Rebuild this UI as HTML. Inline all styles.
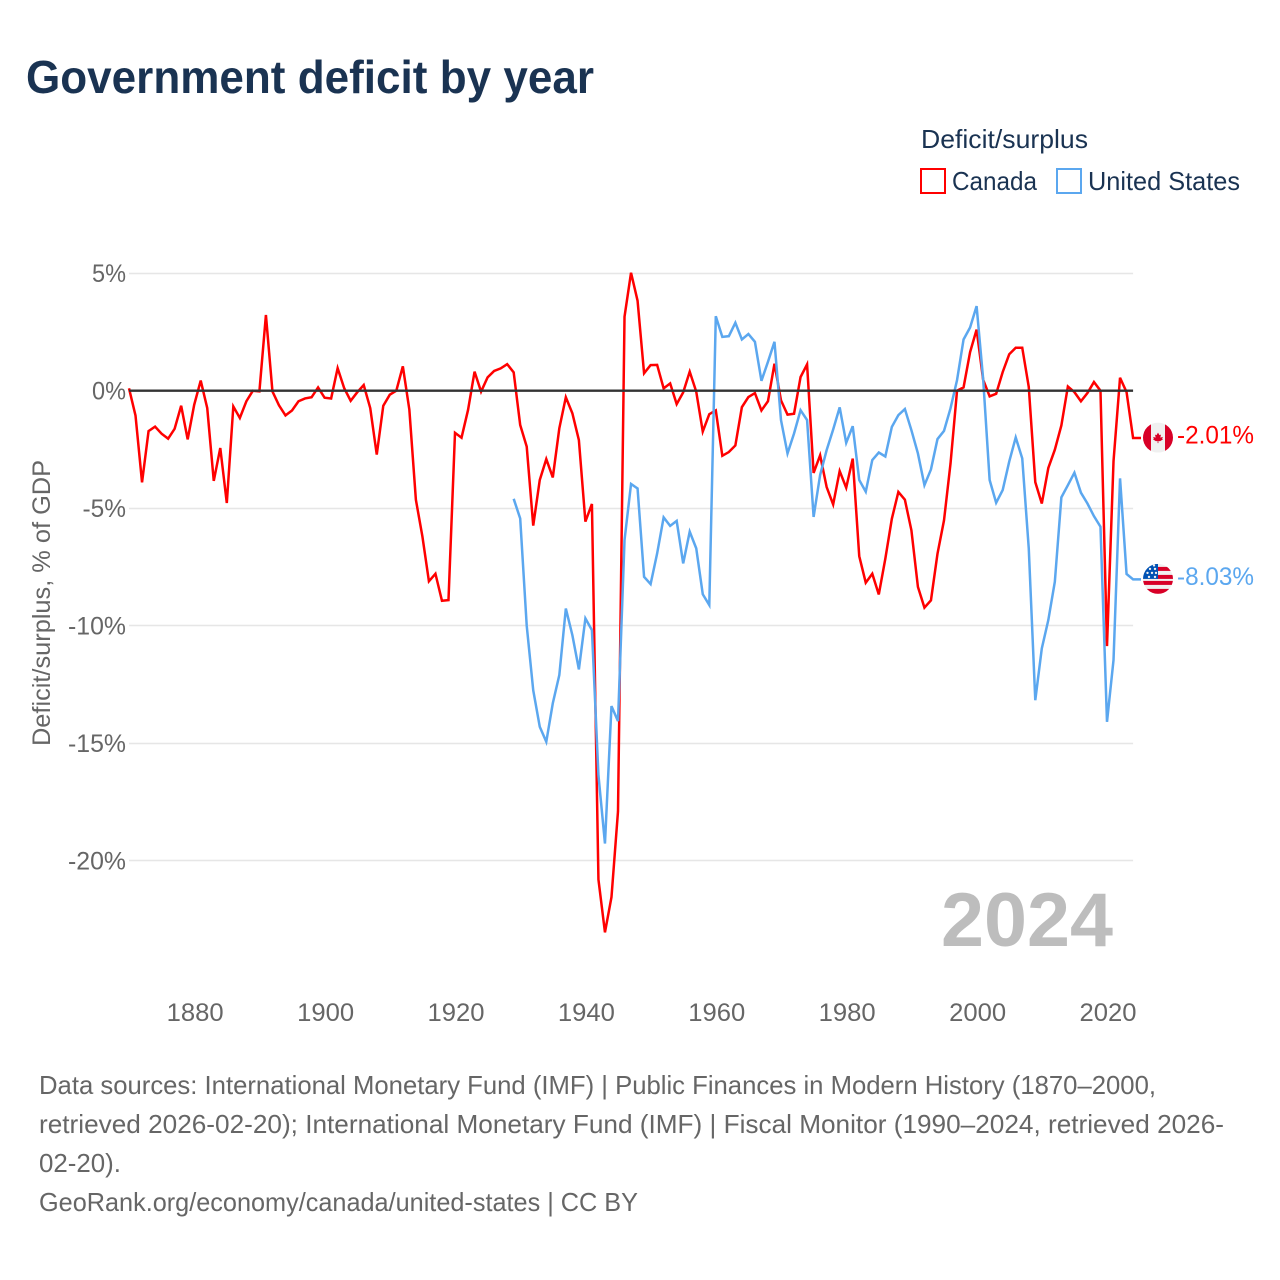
<!DOCTYPE html>
<html lang="en">
<head>
<meta charset="utf-8">
<title>Government deficit by year</title>
<style>
html,body{margin:0;padding:0;background:#fff;width:1280px;height:1280px;overflow:hidden}
svg{display:block}
text{font-family:"Liberation Sans",sans-serif}
</style>
</head>
<body>
<svg id="chart" xmlns="http://www.w3.org/2000/svg" width="1280" height="1280" viewBox="0 0 1280 1280">
  <rect width="1280" height="1280" fill="#ffffff"/>
  <text x="26" y="93" font-size="46" font-weight="700" fill="#1a3352" textLength="568" lengthAdjust="spacingAndGlyphs">Government deficit by year</text>

  <g>
    <text x="921" y="148" font-size="26" fill="#1a3352" textLength="167" lengthAdjust="spacingAndGlyphs">Deficit/surplus</text>
    <rect x="921" y="169" width="24" height="24" fill="none" stroke="#ff0000" stroke-width="2"/>
    <text x="952" y="190" font-size="26" fill="#1a3352" textLength="85" lengthAdjust="spacingAndGlyphs">Canada</text>
    <rect x="1057" y="169" width="24" height="24" fill="none" stroke="#5ba7ef" stroke-width="2"/>
    <text x="1088" y="190" font-size="26" fill="#1a3352" textLength="152" lengthAdjust="spacingAndGlyphs">United States</text>
  </g>

  <g id="grid"></g>
  <g id="yLabels"></g>
  <g id="xLabels"></g>
  <text transform="translate(50,603) rotate(-90)" text-anchor="middle" font-size="25" fill="#666666" textLength="286" lengthAdjust="spacingAndGlyphs">Deficit/surplus, % of GDP</text>

  <text x="941" y="946" font-size="76" font-weight="700" fill="#bdbdbd" textLength="172" lengthAdjust="spacingAndGlyphs">2024</text>

  <g id="series"></g>
  <line id="zeroLine" stroke="#333333" stroke-width="2.4"/>

  <defs>
    <clipPath id="flagClip"><circle cx="0" cy="0" r="15"/></clipPath>
  </defs>

  <g id="flagCanada">
    <g clip-path="url(#flagClip)">
      <rect x="-15" y="-15" width="30" height="30" fill="#f0f0f0"/>
      <rect x="-15" y="-15" width="8" height="30" fill="#d80027"/>
      <rect x="7" y="-15" width="8" height="30" fill="#d80027"/>
      <polygon fill="#d80027" points="0,-5 1.5,-2.5 3,-3 2.3,0 4.8,-0.8 4.2,1.2 5,1.8 2,3.6 1,3.4 0.4,3.5 0.4,5.5 -0.4,5.5 -0.4,3.5 -1,3.4 -2,3.6 -5,1.8 -4.2,1.2 -4.8,-0.8 -2.3,0 -3,-3 -1.5,-2.5"/>
    </g>
  </g>

  <g id="flagUS">
    <g clip-path="url(#flagClip)">
      <rect x="-15" y="-15" width="30" height="30" fill="#f0f0f0"/>
      <rect x="-1" y="-12" width="16" height="4" fill="#d80027"/>
      <rect x="-1" y="-4" width="16" height="4" fill="#d80027"/>
      <rect x="-15" y="2" width="30" height="4" fill="#d80027"/>
      <rect x="-15" y="10" width="30" height="5" fill="#d80027"/>
      <rect x="-15" y="-15" width="15" height="15" fill="#0052b4"/>
      <g fill="#f0f0f0">
        <circle cx="-9" cy="-2" r="1.2"/><circle cx="-3" cy="-2" r="1.2"/>
        <circle cx="-6" cy="-6" r="1.2"/><circle cx="-10.5" cy="-6" r="1.2"/><circle cx="-2" cy="-6" r="1.2"/>
        <circle cx="-8" cy="-10" r="1.2"/><circle cx="-3" cy="-10" r="1.2"/>
        <circle cx="-4" cy="-13.5" r="1.2"/>
      </g>
    </g>
  </g>
  <g id="endLabels"></g>

  <g font-size="26" fill="#666666">
    <text x="39" y="1094" textLength="1117" lengthAdjust="spacingAndGlyphs">Data sources: International Monetary Fund (IMF) | Public Finances in Modern History (1870–2000,</text>
    <text x="39" y="1133" textLength="1185" lengthAdjust="spacingAndGlyphs">retrieved 2026-02-20); International Monetary Fund (IMF) | Fiscal Monitor (1990–2024, retrieved 2026-</text>
    <text x="39" y="1172" textLength="82" lengthAdjust="spacingAndGlyphs">02-20).</text>
    <text x="39" y="1211" textLength="599" lengthAdjust="spacingAndGlyphs">GeoRank.org/economy/canada/united-states | CC BY</text>
  </g>
</svg>

<script>
const canadaStartYear = 1870;
const usStartYear = 1929;
const canadaValues = [
  0.1,-1.06,-3.9,-1.72,-1.53,-1.83,-2.04,-1.62,-0.64,-2.07,
  -0.6,0.43,-0.74,-3.84,-2.44,-4.78,-0.67,-1.16,-0.45,0,
  -0.03,3.22,-0.03,-0.62,-1.05,-0.84,-0.45,-0.33,-0.28,0.14,
  -0.3,-0.33,0.96,0.11,-0.43,-0.07,0.24,-0.74,-2.72,-0.64,
  -0.17,0,1.04,-0.81,-4.64,-6.2,-8.11,-7.79,-8.94,-8.91,
  -1.79,-2,-0.82,0.81,-0.04,0.57,0.84,0.95,1.13,0.78,
  -1.46,-2.38,-5.74,-3.8,-2.91,-3.69,-1.6,-0.28,-0.96,-2.1,
  -5.57,-4.82,-20.8,-23.05,-21.55,-17.9,3.15,5.02,3.83,0.74,
  1.09,1.1,0.1,0.31,-0.57,-0.07,0.81,-0.04,-1.74,-1.0,
  -0.84,-2.77,-2.61,-2.33,-0.7,-0.27,-0.1,-0.84,-0.45,1.15,
  -0.41,-1.02,-0.98,0.58,1.12,-3.5,-2.75,-4.1,-4.84,-3.42,
  -4.13,-2.89,-7.04,-8.17,-7.79,-8.67,-7.15,-5.45,-4.31,-4.64,
  -5.94,-8.35,-9.23,-8.92,-6.94,-5.52,-3.1,0,0.14,1.64,
  2.6,0.47,-0.24,-0.13,0.79,1.55,1.83,1.83,0.16,-3.89,
  -4.8,-3.29,-2.51,-1.48,0.18,-0.06,-0.45,-0.1,0.37,0,
  -10.87,-3,0.55,-0.06,-2.01
];
const usValues = [
  -4.6,
  -5.44,-10,-12.75,-14.3,-14.94,-13.3,-12.1,-9.27,-10.4,-11.86,
  -9.69,-10.19,-16.36,-19.27,-13.42,-14.06,-6.36,-3.97,-4.16,-7.92,
  -8.23,-6.93,-5.39,-5.75,-5.54,-7.35,-6,-6.71,-8.66,-9.12,
  3.17,2.29,2.32,2.89,2.18,2.41,2.08,0.42,1.23,2.08,
  -1.25,-2.67,-1.82,-0.83,-1.25,-5.37,-3.59,-2.53,-1.65,-0.71,
  -2.22,-1.51,-3.8,-4.3,-2.95,-2.63,-2.8,-1.54,-1.04,-0.78,
  -1.68,-2.67,-4.02,-3.35,-2.06,-1.71,-0.75,0.45,2.18,2.69,
  3.6,0.52,-3.8,-4.77,-4.23,-3.02,-1.99,-2.88,-6.71,-13.17,
  -10.97,-9.76,-8.13,-4.54,-4.02,-3.49,-4.34,-4.8,-5.34,-5.79,
  -14.09,-11.46,-3.73,-7.8,-8.03
];
const yTicks = [5,0,-5,-10,-15,-20];
const yTickLabels = ["5%","0%","-5%","-10%","-15%","-20%"];
const xTicks = [1880,1900,1920,1940,1960,1980,2000,2020];
const xTickLabels = ["1880","1900","1920","1940","1960","1980","2000","2020"];

const SVG_NS = "http://www.w3.org/2000/svg";
const xScale = function (year) { return 129 + (year - 1870) * 6.52; };
const yScale = function (v) { return 390.7 - v * 23.5; };
const leaderEndX = 1141;
const flagX = 1158;

const gridGroup = document.getElementById("grid");
const yGroup = document.getElementById("yLabels");
const xGroup = document.getElementById("xLabels");
const seriesGroup = document.getElementById("series");
const endGroup = document.getElementById("endLabels");

yTicks.forEach(function (t, i) {
  const y = yScale(t);
  if (t !== 0) {
    const g = document.createElementNS(SVG_NS, "line");
    
    
    g.setAttribute("x1", xScale(1870));
    g.setAttribute("x2", xScale(2024));
    g.setAttribute("y1", Math.round(y - 0.5) + 0.5);
    g.setAttribute("y2", Math.round(y - 0.5) + 0.5);
    g.setAttribute("stroke", "#e6e6e6");
    g.setAttribute("stroke-width", "1.4");
    gridGroup.appendChild(g);
  }
  const l = document.createElementNS(SVG_NS, "text");
  
  
  l.setAttribute("x", 126);
  l.setAttribute("y", y + 8.8);
  l.setAttribute("text-anchor", "end");
  l.setAttribute("font-size", "25");
  l.setAttribute("fill", "#666666");
  l.setAttribute("textLength", 14.5 * yTickLabels[i].length + (yTickLabels[i].length === 2 ? 5 : 0));
  l.setAttribute("lengthAdjust", "spacingAndGlyphs");
  l.textContent = yTickLabels[i];
  yGroup.appendChild(l);
});

xTicks.forEach(function (t, i) {
  const l = document.createElementNS(SVG_NS, "text");
  
  
  l.setAttribute("x", xScale(t) - 27.5);
  l.setAttribute("y", 1021);
  l.setAttribute("font-size", "25");
  l.setAttribute("fill", "#666666");
  l.setAttribute("textLength", "57");
  l.setAttribute("lengthAdjust", "spacingAndGlyphs");
  l.textContent = xTickLabels[i];
  xGroup.appendChild(l);
});

function buildPath(values, startYear) {
  let d = "";
  values.forEach(function (v, i) {
    d += (i === 0 ? "M" : "L") + xScale(startYear + i).toFixed(2) + " " + yScale(v).toFixed(2);
  });
  d += "L" + leaderEndX + " " + yScale(values[values.length - 1]).toFixed(2);
  return d;
}

const canadaLine = document.createElementNS(SVG_NS, "path");


canadaLine.setAttribute("d", buildPath(canadaValues, canadaStartYear));
canadaLine.setAttribute("fill", "none");
canadaLine.setAttribute("stroke", "#ff0000");
canadaLine.setAttribute("stroke-width", "2.5");
seriesGroup.appendChild(canadaLine);

const usLine = document.createElementNS(SVG_NS, "path");


usLine.setAttribute("d", buildPath(usValues, usStartYear));
usLine.setAttribute("fill", "none");
usLine.setAttribute("stroke", "#5ba7ef");
usLine.setAttribute("stroke-width", "2.5");
seriesGroup.appendChild(usLine);

const zero = document.getElementById("zeroLine");
zero.setAttribute("x1", xScale(1870));
zero.setAttribute("x2", xScale(2024));
zero.setAttribute("y1", yScale(0));
zero.setAttribute("y2", yScale(0));

const canadaLast = canadaValues[canadaValues.length - 1];
const usLast = usValues[usValues.length - 1];
document.getElementById("flagCanada").setAttribute("transform", "translate(" + flagX + "," + (yScale(canadaLast) - 0.3) + ")");
document.getElementById("flagUS").setAttribute("transform", "translate(" + flagX + "," + (yScale(usLast) - 0.5) + ")");

const canadaEnd = document.createElementNS(SVG_NS, "text");


canadaEnd.setAttribute("x", 1177);
canadaEnd.setAttribute("y", yScale(canadaLast) + 5.5);
canadaEnd.setAttribute("font-size", "25");
canadaEnd.setAttribute("fill", "#ff0000");
canadaEnd.setAttribute("textLength", "77");
canadaEnd.setAttribute("lengthAdjust", "spacingAndGlyphs");
canadaEnd.textContent = canadaLast.toFixed(2) + "%";
endGroup.appendChild(canadaEnd);

const usEnd = document.createElementNS(SVG_NS, "text");


usEnd.setAttribute("x", 1177);
usEnd.setAttribute("y", yScale(usLast) + 5.5);
usEnd.setAttribute("font-size", "25");
usEnd.setAttribute("fill", "#5ba7ef");
usEnd.setAttribute("textLength", "77");
usEnd.setAttribute("lengthAdjust", "spacingAndGlyphs");
usEnd.textContent = usLast.toFixed(2) + "%";
endGroup.appendChild(usEnd);
</script>
</body>
</html>
